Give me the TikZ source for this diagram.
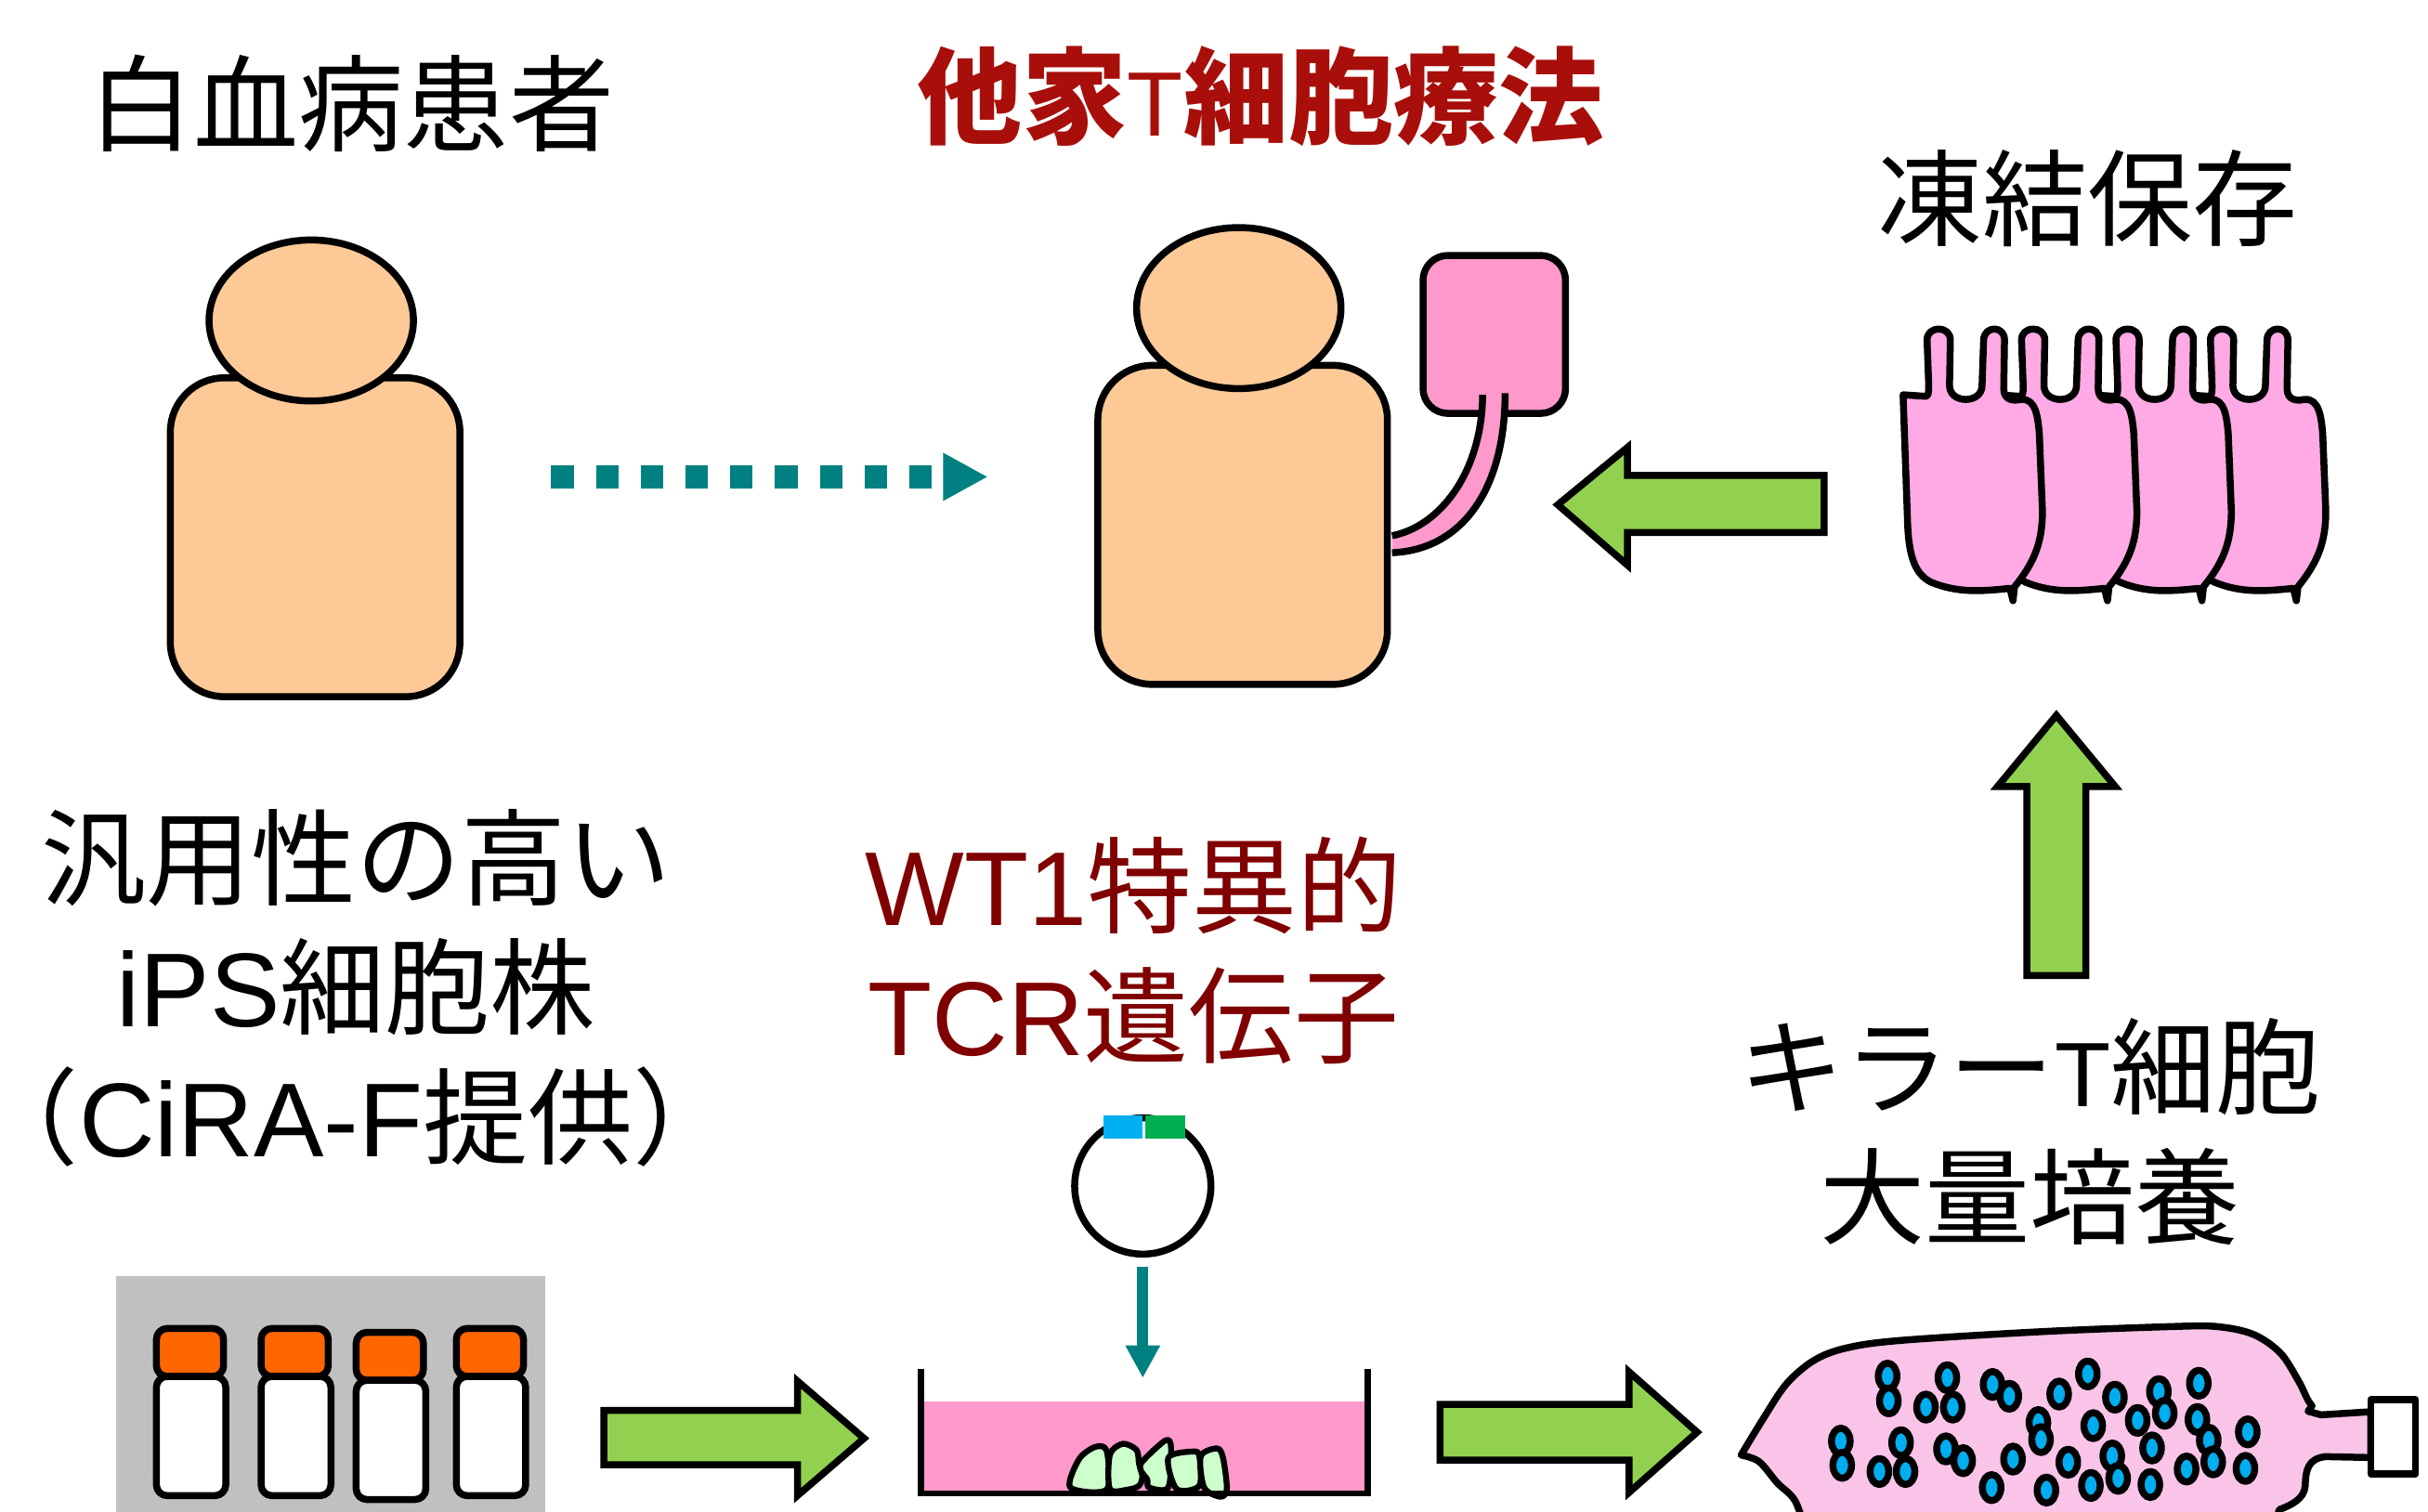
\documentclass[tikz,border=0pt]{standalone}
\usepackage{fontspec}
\setmainfont{Noto Sans CJK JP}
\newfontfamily\lat{Liberation Sans}
\usetikzlibrary{arrows.meta}

\definecolor{skin}{RGB}{252,201,151}
\definecolor{bagpink}{RGB}{255,153,204}
\definecolor{cellpink}{RGB}{255,170,228}
\definecolor{flaskpink}{RGB}{250,196,232}
\definecolor{arrowgreen}{RGB}{146,208,80}
\definecolor{tealarrow}{RGB}{0,128,128}
\definecolor{capred}{RGB}{255,102,0}
\definecolor{vialgray}{RGB}{192,192,192}
\definecolor{titlered}{RGB}{168,14,10}
\definecolor{genered}{RGB}{128,0,0}
\definecolor{geneblue}{RGB}{0,176,240}
\definecolor{genegreen}{RGB}{0,176,80}
\definecolor{colony}{RGB}{204,255,204}

\newcommand{\lbl}{\fontsize{19.3pt}{23.8pt}\selectfont}
\newcommand{\smallT}{{\lat\mdseries\fontsize{16.8pt}{20pt}\selectfont T}}

\begin{document}
\begin{tikzpicture}[x=0.1mm, y=-0.1mm, line join=round,
  outline/.style={draw=black, line width=0.45mm},
  bigarrow/.style={fill=arrowgreen, draw=black, line width=0.45mm, line join=miter},
  txt/.style={font=\lbl, align=center, inner sep=0pt},
  patient/.pic={
    \draw[outline, fill=skin, rounded corners=3.5mm] (-91,37) rectangle (96,243);
    \draw[outline, fill=skin] (0,0) ellipse [x radius=6.6mm, y radius=5.2mm];
  },
  tcell/.pic={
    \draw[outline, fill=cellpink] (0,0) -- (15,1) .. controls (17,0) and (16.5,-4) .. (16.5,-8)
      -- (15.5,-35) .. controls (15,-45) and (31,-45) .. (30.5,-35) -- (30,-6)
      .. controls (30,6) and (51,6) .. (51,-6) -- (52,-35) .. controls (52,-45) and (66,-45) .. (65.5,-35)
      -- (65,-4) .. controls (65,4) and (72,4) .. (76,3) .. controls (86,2) and (87,15) .. (88,25)
      -- (90,75) .. controls (90,95) and (85,108) .. (72,124) -- (71,133) -- (69,125)
      .. controls (50,127) and (35,128) .. (18,121) .. controls (8,116) and (4,105) .. (3,85) -- cycle;
  }]
\useasboundingbox (0,0) rectangle (1568,976);
\clip (0,0) rectangle (1568,976);

% titles
\node[txt] (patienttitle) at (227,67) {白血病患者};
\node[txt, text=titlered] (therapytitle) at (814,62) {\bfseries 他家\smallT 細胞療法};
\node[txt] (freezetitle) at (1348,128) {凍結保存};
\node[txt] (ipstitle) at (230,638) {汎用性の高い\\{\lat iPS}細胞株\\（{\lat CiRA-F}提供）};
\node[txt, text=genered] (tcrtitle) at (732,614) {{\lat WT1}特異的\\{\lat TCR}遺伝子};
\node[txt] (expandtitle) at (1311,731) {キラー\smallT 細胞\\大量培養};

% patients
\pic (patientbefore) at (201,207) {patient};
\pic (patientafter) at (800,199) {patient};
\coordinate (dotstart) at (356,308);
\coordinate (dotend) at (638,308);
\draw[tealarrow, line width=1.45mm, dash pattern=on 1.45mm off 1.44mm,
  -{Triangle[length=2.9mm,width=2.9mm]}] (dotstart) -- (dotend);

% infusion bag
\draw[outline, fill=bagpink, rounded corners=1.6mm] (919,165) rectangle (1011,267);
\fill[bagpink] (957.5,255) .. controls (957,305) and (930,340) .. (899,346)
  -- (899,357) .. controls (945,355) and (972,315) .. (972,254) -- cycle;
\draw[line width=0.45mm] (957.5,255) .. controls (957,305) and (930,340) .. (899,346);
\draw[line width=0.45mm] (972,254) .. controls (972,315) and (945,355) .. (899,357);

% frozen T cells
\foreach \i in {3,2,1,0}
  \pic at (1229+61*\i,255) {tcell};

% green arrows
\draw[bigarrow] (1178,307) -- (1051,307) -- (1051,289) -- (1006,326) -- (1051,365) -- (1051,344) -- (1178,344) -- cycle;
\draw[bigarrow] (1309,630) -- (1309,508) -- (1290,508) -- (1328,462) -- (1366,508) -- (1347,508) -- (1347,630) -- cycle;
\draw[bigarrow] (390,911) -- (515,911) -- (515,892) -- (558,929) -- (515,966) -- (515,946) -- (390,946) -- cycle;
\draw[bigarrow] (930,907) -- (1052,907) -- (1052,886) -- (1096,925) -- (1052,964) -- (1052,943) -- (930,943) -- cycle;

% iPS cell stock
\fill[vialgray] (75,824) rectangle (352,990);
\foreach \vx/\vy/\vw in {101/0/44.8, 168.6/0/45.1, 230/2.5/45, 294.7/0/44.8} {
  \draw[outline, fill=capred, rounded corners=0.7mm] (\vx,858+\vy) rectangle ++(43.4,31);
  \draw[outline, fill=white, rounded corners=0.7mm] (\vx,889+\vy) rectangle ++(\vw,77);
}

% plasmid and dish
\node[circle, draw, line width=0.45mm, minimum size=8.8mm, inner sep=0pt] (plasmid) at (738,766) {};
\fill[geneblue] (712.6,720.7) rectangle (737.7,735.6);
\fill[genegreen] (739.8,720.7) rectangle (765.4,735.6);
\coordinate (dishtop) at (738,890);
\draw[tealarrow, line width=0.7mm, shorten <=0.6mm, -{Triangle[length=2.1mm,width=2.1mm]}] (plasmid) -- (dishtop);
\fill[bagpink] (597,905) rectangle (881,963);
\foreach \blob in {
  {(691.2,960.7) (696.8,942.5) (707.3,934.5) (714.7,937.1) (714.7,962.1)},
  {(716.8,961.7) (716.8,939.5) (725.1,932.5) (734,936.5) (735.6,945.5) (737.7,953.6) (735.6,959.6) (728.3,962.1)},
  {(737.7,944) (752.4,930.5) (756.2,934.5) (754.5,960.7) (742,960.7) (740.9,955.6) (736.7,949.6)},
  {(754.5,941.5) (770.3,937.5) (774.5,940.5) (774.5,959.6) (759.8,961.7)},
  {(775.5,940.5) (786,935.5) (789.8,941.5) (792.3,961.7) (788.1,966.7) (777.6,960.7)}}
  \draw[line width=0.38mm, fill=colony] plot[smooth cycle, tension=0.5] coordinates \blob;
\draw[line width=0.42mm] (595,884) -- (595,966.5);
\draw[line width=0.42mm] (883,884) -- (883,966.5);
\draw[line width=0.4mm] (595,964.5) -- (883,964.5);

% culture bag
\draw[outline, fill=flaskpink]
  plot[smooth, tension=0.55] coordinates {(1168,995) (1159.5,969.8) (1147.8,957.8) (1136,944) (1124.4,939.8)}
  -- plot[smooth, tension=0.55] coordinates {(1124.4,939.8) (1139,915.8) (1153.7,893.8) (1171.2,878.8)
     (1191.7,870.8) (1226.8,865.8) (1320,860) (1402.4,856.8) (1431.7,856.8) (1455.1,861.8)
     (1472.6,873.8) (1484.3,891.8) (1490.2,903.8) (1493.1,908)}
  -- (1490.5,911.5) -- (1499,913.8) -- (1531,911.8) -- (1531,941.4) -- (1502,940.8)
  .. controls (1490,942) and (1489,950) .. (1488.7,959.8)
  .. controls (1488,968) and (1480,972) .. (1472,975) -- (1465,995) -- cycle;
\draw[outline, fill=white] (1531,904) rectangle (1560,952);
\foreach \cx/\cy in {1219/888.8, 1219.8/904.8, 1257.6/889.8, 1243.8/908.8, 1261.1/908.8,
  1286.8/894.2, 1297.6/901.8, 1329.8/900.4, 1348.3/887.4, 1365.8/902.4, 1394.2/898.8,
  1420/893.4, 1316.4/918.8, 1318.1/929.8, 1351.8/920.8, 1380.5/917.4, 1398/912.8,
  1419.1/916.8, 1426.4/930.2, 1451.6/924.8, 1188.8/930.8, 1189.7/946.4, 1227.7/931.8,
  1213.7/950.4, 1230.6/950.4, 1256.7/935.8, 1267.8/943.4, 1300/942.4, 1286.2/960.8,
  1321.6/962.4, 1335.7/944.4, 1364.1/940.4, 1367.9/954.8, 1350.3/959.4, 1389.8/935.2,
  1388.7/958.8, 1412.1/948.8, 1429.3/944.2, 1450.1/948.4}
  \draw[line width=0.45mm, fill=cyan] (\cx,\cy) ellipse [x radius=0.6mm, y radius=0.84mm];
\end{tikzpicture}
\end{document}
